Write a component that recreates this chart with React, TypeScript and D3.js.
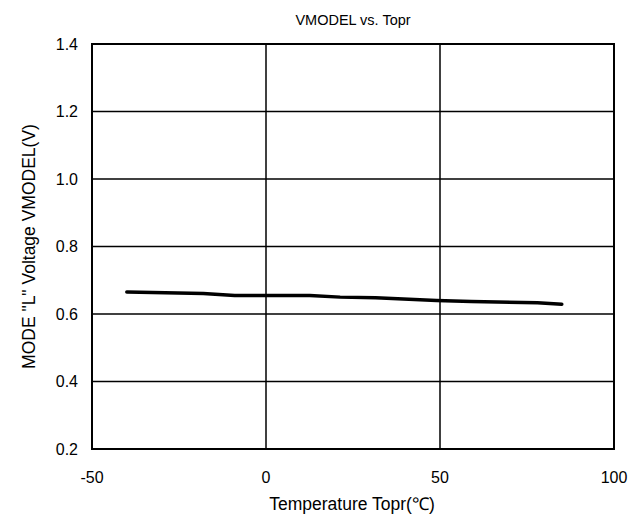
import React from "react";
import * as d3 from "d3";

const temps = [-40, -18, -9, 12.6, 21.3, 31.5, 49, 59, 78, 85];
const volts = [0.665, 0.661, 0.655, 0.655, 0.65, 0.648, 0.64, 0.637, 0.633, 0.629];
const xTicks = [-50, 0, 50, 100];
const yTicks = [0.2, 0.4, 0.6, 0.8, 1.0, 1.2, 1.4];

const W = 633, H = 515;
const L = 92, R = 614, T = 44, B = 449;
const font = "'Liberation Sans', Arial, sans-serif";

export default function App() {
  const x = d3.scaleLinear().domain([-50, 100]).range([L, R]);
  const y = d3.scaleLinear().domain([0.2, 1.4]).range([B, T]);
  const line = d3.line<number>().x((_, i) => x(temps[i])).y((d) => y(d));
  return (
    <svg width={W} height={H} style={{ position: "absolute", left: 0, top: 0 }} fontFamily={font}>
      <rect width={W} height={H} fill="#fff" />
      {xTicks.map((t) => (
        <line key={"gx" + t} x1={x(t)} x2={x(t)} y1={T} y2={B} stroke="#000" strokeWidth={1.5} />
      ))}
      {yTicks.map((t) => (
        <line key={"gy" + t} x1={L} x2={R} y1={y(t)} y2={y(t)} stroke="#000" strokeWidth={1.5} />
      ))}
      <rect x={L} y={T} width={R - L} height={B - T} fill="none" stroke="#000" strokeWidth={2} />
      <path d={line(volts) || ""} fill="none" stroke="#000" strokeWidth={3.5} strokeLinecap="round" strokeLinejoin="round" />
      {yTicks.map((t) => (
        <text key={"ty" + t} x={78} y={y(t)} dy="0.35em" textAnchor="end" fontSize={16}>
          {t.toFixed(1)}
        </text>
      ))}
      {xTicks.map((t) => (
        <text key={"tx" + t} x={x(t)} y={483} textAnchor="middle" fontSize={16}>
          {t}
        </text>
      ))}
      <text x={(L + R) / 2} y={25} textAnchor="middle" fontSize={14.5}>VMODEL vs. Topr</text>
      <text x={352} y={510} textAnchor="middle" fontSize={17.5}>Temperature Topr(℃)</text>
      <text transform={`translate(35,${(T + B) / 2}) rotate(-90)`} textAnchor="middle" fontSize={17.5}>
        MODE "L" Voltage VMODEL(V)
      </text>
    </svg>
  );
}
